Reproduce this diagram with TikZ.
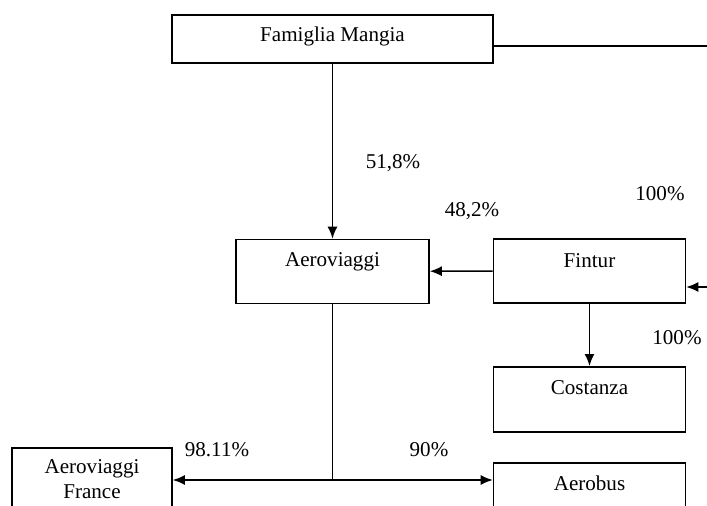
\documentclass[tikz,border=0pt]{standalone}
\usepackage{fontspec}
\setmainfont{Liberation Serif}
\usetikzlibrary{arrows.meta}

\begin{document}
\begin{tikzpicture}[%
    x=0.02cm, y=-0.02cm,
    writing/.style={%
      font=\fontsize{12}{14.4}\selectfont,  % 12pt text
      align=center                          % align in center
    },
    firm/.style={%
      rectangle,          % plain box
      draw,               % black outline
      line width=0.9pt,   %              and thin
      inner sep=0pt,      % size set by hand
      anchor=north,       % placed by its top edge
      writing             % writing style above
    },
    share/.style={%
      writing,            % writing style above
      anchor=base         % placed by its baseline
    },
    connection/.style={%
      ->,                               % single headed
      line width=0.9pt,                 % thin lines
      >={Latex[length=2.4mm,width=2mm]} % filled arrow head
    },
    plain/.style={%
      line width=0.9pt    % same as the arrows
    }
]

    \useasboundingbox (0,0) rectangle (707,506);
    \clip (0,0) rectangle (707,506);

    % nodes
    \node at (332.5,14)  [firm, minimum width=6.42cm, text height=0.54cm, text depth=0.42cm] (famiglia) {Famiglia Mangia};
    \node at (332.5,238.7) [firm, minimum width=3.86cm, text height=0.55cm, text depth=0.73cm] (aeroviaggi) {Aeroviaggi};
    \node at (589.5,238) [firm, minimum width=3.84cm, text height=0.58cm, text depth=0.70cm] (fintur) {Fintur};
    \node at (589.5,366) [firm, minimum width=3.84cm, text height=0.56cm, text depth=0.74cm] (costanza) {Costanza};
    \node at (589.5,462) [firm, minimum width=3.84cm, text height=0.56cm, text depth=0.90cm] (aerobus) {Aerobus};
    \node at (92,447)    [firm, minimum width=3.2cm, minimum height=1.26cm] (france) {Aeroviaggi\\France};

    % free ends and the split point
    \coordinate (edge top) at (707,46);
    \coordinate (edge mid) at (707,287);
    \coordinate (split)    at (332.5,480);

    % percentages
    \node at (393,169) [share] (p famiglia) {51,8\%};
    \node at (472,217) [share] (p fintur)   {48,2\%};
    \node at (660,201) [share] (p edge)     {100\%};
    \node at (677,345) [share] (p costanza) {100\%};
    \node at (217,457) [share] (p france)   {98.11\%};
    \node at (429,457) [share] (p aerobus)  {90\%};

    % connections
    \draw[plain] (famiglia.east |- edge top) -- (edge top);
    \draw[connection] (famiglia) -- (aeroviaggi);
    \draw[connection] (fintur) -- (aeroviaggi);
    \draw[connection] (edge mid) -- (fintur.east |- edge mid);
    \draw[connection] (fintur) -- (costanza);

    \draw[plain] (aeroviaggi) -- (split);
    \draw[connection] (split) -- (france.east |- split);
    \draw[connection] (split) -- (aerobus.west |- split);

\end{tikzpicture}
\end{document}
